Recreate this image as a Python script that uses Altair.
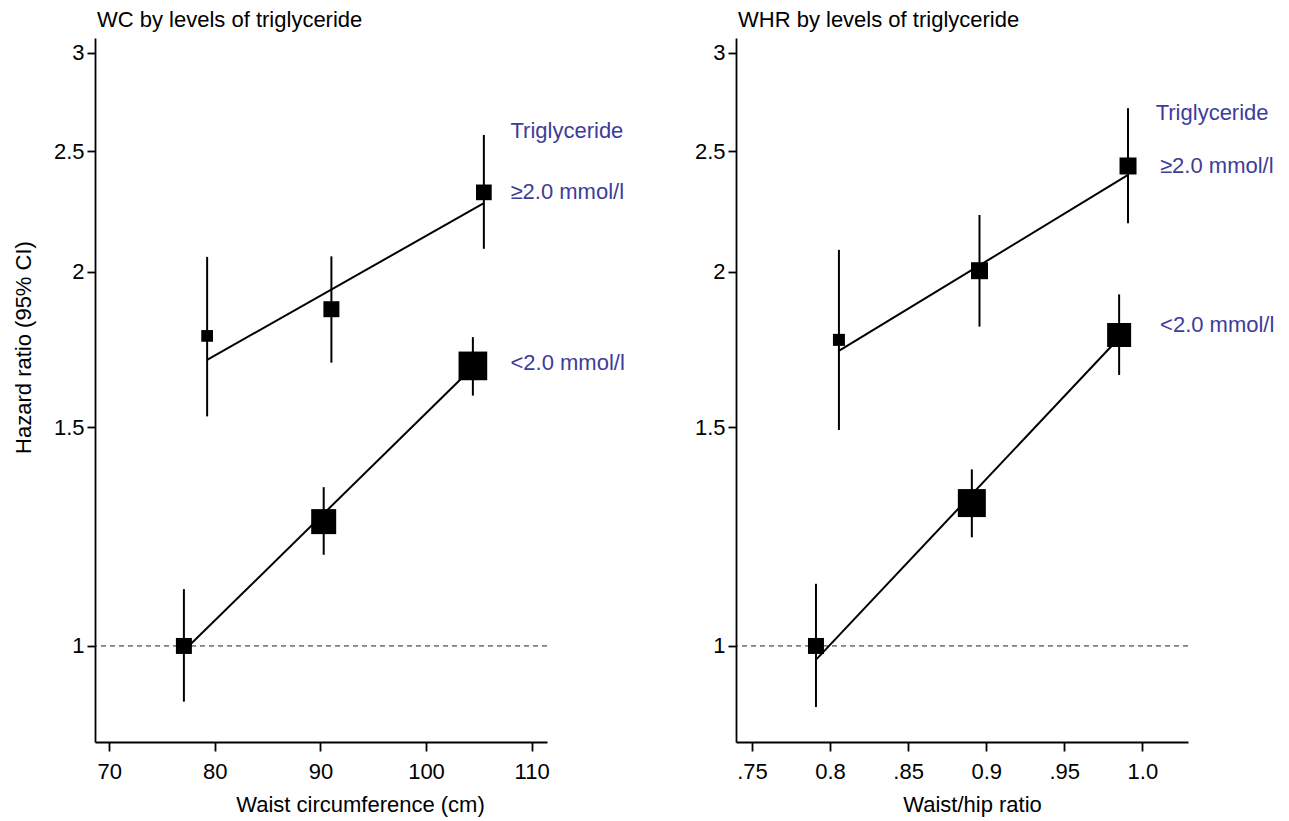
import altair as alt
import pandas as pd

FONT = "Liberation Sans"
LABEL_BLUE = "#3d3d99"

# ---------------- WC panel (left) ----------------
wc_x_low = [77.07, 90.31, 104.44]
wc_hr_low = [1.000, 1.259, 1.680]
wc_lo_low = [0.902, 1.184, 1.590]
wc_hi_low = [1.111, 1.342, 1.772]
wc_w_low = [16, 25, 28.7]          # relative box size (weight)

wc_x_high = [79.27, 91.04, 105.48]
wc_hr_high = [1.776, 1.866, 2.317]
wc_lo_high = [1.530, 1.690, 2.087]
wc_hi_high = [2.056, 2.058, 2.577]
wc_w_high = [11.7, 16, 15.7]

wc_fit_x_low = [77.07, 104.44]
wc_fit_y_low = [0.991, 1.676]
wc_fit_x_high = [79.27, 105.48]
wc_fit_y_high = [1.699, 2.271]

wc_lab_text = ["Triglyceride", "≥2.0 mmol/l", "<2.0 mmol/l"]
wc_lab_x = [108.0, 108.0, 108.0]
wc_lab_y = [2.598, 2.319, 1.689]

# ---------------- WHR panel (right) ----------------
whr_x_low = [0.7910, 0.8908, 0.9851]
whr_hr_low = [1.000, 1.303, 1.779]
whr_lo_low = [0.893, 1.223, 1.652]
whr_hi_low = [1.122, 1.387, 1.918]
whr_w_low = [16, 28, 24]

whr_x_high = [0.8057, 0.8957, 0.9908]
whr_hr_high = [1.763, 2.004, 2.433]
whr_lo_high = [1.492, 1.807, 2.188]
whr_hi_high = [2.083, 2.222, 2.708]
whr_w_high = [12, 17, 17]

whr_fit_x_low = [0.7914, 0.9851]
whr_fit_y_low = [0.976, 1.769]
whr_fit_x_high = [0.8059, 0.9908]
whr_fit_y_high = [1.728, 2.393]

whr_lab_text = ["Triglyceride", "≥2.0 mmol/l", "<2.0 mmol/l"]
whr_lab_x = [1.0085, 1.0113, 1.0113]
whr_lab_y = [2.683, 2.433, 1.812]

y_ticks = [1, 1.5, 2, 2.5, 3]
y_domain = [0.837, 3.084]
wc_ticks = [70, 80, 90, 100, 110]
wc_domain = [68.65, 111.46]
whr_ticks = [0.75, 0.8, 0.85, 0.9, 0.95, 1.0]
whr_tick_labels = [".75", "0.8", ".85", "0.9", ".95", "1.0"]
whr_domain = [0.7398, 1.0292]

PW, PH = 452, 704
LFS = 22   # tick label font size
TFS = 22   # title font size


def points_df(xs, hr, lo, hi, w, grp):
    return pd.DataFrame({"x": xs, "hr": hr, "lo": lo, "hi": hi,
                         "s": [v * v for v in w], "g": grp})


def fit_df(xs, ys, grp):
    return pd.DataFrame({"x": xs, "y": ys, "g": grp})


def panel(pts, fit, labs, xdomain, xticks, xlabelexpr, xtitle, xtitle_x,
          title, ytitle):
    xs = alt.Scale(domain=xdomain, nice=False, zero=False)
    ys = alt.Scale(type="log", domain=y_domain, nice=False, zero=False)
    xaxis = alt.Axis(values=xticks, title=xtitle, titleX=xtitle_x,
                     labelExpr=xlabelexpr if xlabelexpr else "datum.label",
                     labelFont=FONT, labelFontSize=LFS, labelColor="black",
                     titleFont=FONT, titleFontSize=TFS, titleFontWeight="normal",
                     titleColor="black", tickSize=9, labelPadding=10,
                     titlePadding=12, domainColor="black", tickColor="black",
                     domainWidth=1.8, tickWidth=1.8, grid=False)
    yaxis = alt.Axis(values=y_ticks, format="~g",
                     title=ytitle if ytitle else "", titleY=309,
                     labelFont=FONT, labelFontSize=LFS, labelColor="black",
                     titleFont=FONT, titleFontSize=TFS, titleFontWeight="normal",
                     titleColor="black", tickSize=8, labelPadding=3,
                     titlePadding=18, domainColor="black", tickColor="black",
                     domainWidth=1.8, tickWidth=1.8, grid=False)
    X = alt.X("x:Q", scale=xs, axis=xaxis)
    ref = alt.Chart(pd.DataFrame({"hr": [1.0]})).mark_rule(
        color="#222222", strokeWidth=1, strokeDash=[5, 4]
    ).encode(y=alt.Y("hr:Q", scale=ys, axis=yaxis))
    bars = alt.Chart(pts).mark_rule(color="black", strokeWidth=2).encode(
        x=X, y=alt.Y("lo:Q", scale=ys, axis=yaxis), y2="hi:Q")
    lines = alt.Chart(fit).mark_line(color="black", strokeWidth=2).encode(
        x=X, y=alt.Y("y:Q", scale=ys, axis=yaxis), detail="g:N")
    sq = alt.Chart(pts).mark_point(shape="square", filled=True, color="black",
                                   opacity=1, strokeWidth=0).encode(
        x=X, y=alt.Y("hr:Q", scale=ys, axis=yaxis),
        size=alt.Size("s:Q", scale=None))
    txt = alt.Chart(labs).mark_text(align="left", baseline="middle",
                                    font=FONT, fontSize=22,
                                    color=LABEL_BLUE).encode(
        x=X, y=alt.Y("y:Q", scale=ys, axis=yaxis), text="t:N")
    return alt.layer(ref, bars, lines, sq, txt).properties(
        width=PW, height=PH,
        title=alt.TitleParams(title, anchor="start", frame="group",
                              fontSize=TFS, font=FONT, fontWeight="normal",
                              color="black", offset=6, dx=2))


wc_pts = pd.concat([points_df(wc_x_low, wc_hr_low, wc_lo_low, wc_hi_low, wc_w_low, "low"),
                    points_df(wc_x_high, wc_hr_high, wc_lo_high, wc_hi_high, wc_w_high, "high")])
wc_fit = pd.concat([fit_df(wc_fit_x_low, wc_fit_y_low, "low"),
                    fit_df(wc_fit_x_high, wc_fit_y_high, "high")])
wc_labs = pd.DataFrame({"x": wc_lab_x, "y": wc_lab_y, "t": wc_lab_text})

whr_pts = pd.concat([points_df(whr_x_low, whr_hr_low, whr_lo_low, whr_hi_low, whr_w_low, "low"),
                     points_df(whr_x_high, whr_hr_high, whr_lo_high, whr_hi_high, whr_w_high, "high")])
whr_fit = pd.concat([fit_df(whr_fit_x_low, whr_fit_y_low, "low"),
                     fit_df(whr_fit_x_high, whr_fit_y_high, "high")])
whr_labs = pd.DataFrame({"x": whr_lab_x, "y": whr_lab_y, "t": whr_lab_text})

expr_parts = " : ".join(
    f"abs(datum.value - {v}) < 1e-6 ? '{l}'" for v, l in zip(whr_ticks, whr_tick_labels))
whr_expr = expr_parts + " : datum.label"

left = panel(wc_pts, wc_fit, wc_labs, wc_domain, wc_ticks, None,
             "Waist circumference (cm)", 265, "WC by levels of triglyceride",
             "Hazard ratio (95% CI)")
right = panel(whr_pts, whr_fit, whr_labs, whr_domain, whr_ticks, whr_expr,
              "Waist/hip ratio", 236, "WHR by levels of triglyceride", None)

chart = alt.hconcat(left, right, spacing=189, bounds="flush").configure_view(
    stroke=None
).properties(background="white", padding={"left": 4, "top": 1, "right": 5, "bottom": 5})

chart.save("out.html", embed_options={"renderer": "svg", "actions": False})
